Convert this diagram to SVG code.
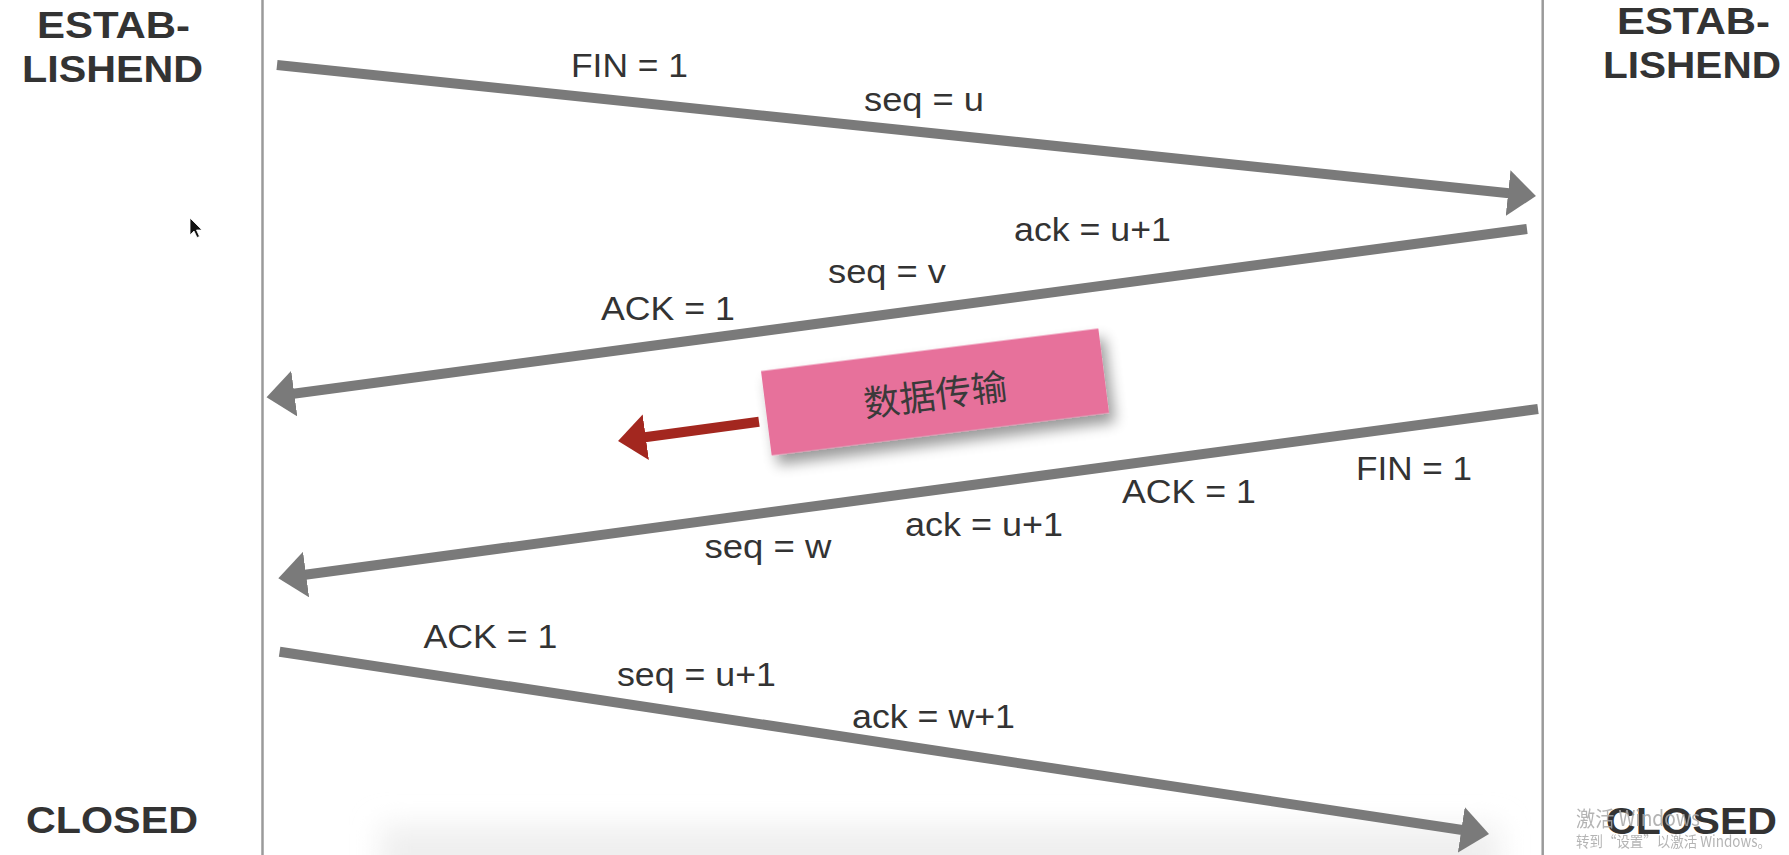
<svg xmlns="http://www.w3.org/2000/svg" width="1789" height="855" viewBox="0 0 1789 855">
<style>
.life{stroke:#9a9a9a;stroke-width:2.5;fill:none}
.msg{stroke:#7a7a7a;stroke-width:10;fill:none;stroke-linecap:butt}
.red{stroke:#a3271f;stroke-width:10;fill:none}
.lbl{font-family:"Liberation Sans",Arial,sans-serif;font-size:33px;fill:#333}
.state{font-family:"Liberation Sans",Arial,sans-serif;font-weight:bold;font-size:37px;fill:#333}
.cjk{font-family:"Noto Sans CJK SC","Liberation Sans",sans-serif;font-size:36px;fill:#3a3a3a}
.wm{font-family:"Noto Sans CJK SC","Liberation Sans",sans-serif;fill:#a8a8a8;opacity:0.85}
</style>
<defs>
<marker id="headGray" markerUnits="userSpaceOnUse" markerWidth="30" markerHeight="48" refX="1" refY="23" orient="auto" viewBox="0 0 30 48">
<path d="M0,0 L28,23 L0,46 Z" fill="#7a7a7a"/>
</marker>
<marker id="headRed" markerUnits="userSpaceOnUse" markerWidth="30" markerHeight="48" refX="1" refY="23" orient="auto" viewBox="0 0 30 48">
<path d="M0,0 L28,23 L0,46 Z" fill="#a3271f"/>
</marker>
<filter id="shadow" x="-20%" y="-40%" width="140%" height="180%">
<feGaussianBlur in="SourceAlpha" stdDeviation="7"/>
<feOffset dx="5" dy="10" result="b"/>
<feComponentTransfer><feFuncA type="linear" slope="0.4"/></feComponentTransfer>
<feMerge><feMergeNode/><feMergeNode in="SourceGraphic"/></feMerge>
</filter>
<filter id="soft" x="-10%" y="-100%" width="120%" height="300%">
<feGaussianBlur stdDeviation="14"/>
</filter>
</defs>
<rect x="0" y="0" width="1789" height="855" fill="#ffffff"/>
<rect x="380" y="825" width="1120" height="70" fill="#efefef" filter="url(#soft)"/>

<g id="lifelines">
<line class="life" x1="262.5" y1="0" x2="262.5" y2="855"/>
<line class="life" x1="1542.7" y1="0" x2="1542.7" y2="855"/>
</g>

<g id="client">
<text class="state" x="37" y="37.5" textLength="153" lengthAdjust="spacingAndGlyphs">ESTAB-</text>
<text class="state" x="22" y="82" textLength="181" lengthAdjust="spacingAndGlyphs">LISHEND</text>
<text class="state" x="26" y="832.5" textLength="172" lengthAdjust="spacingAndGlyphs">CLOSED</text>
</g>

<g id="server">
<text class="state" x="1617" y="34" textLength="153" lengthAdjust="spacingAndGlyphs">ESTAB-</text>
<text class="state" x="1603" y="78" textLength="178" lengthAdjust="spacingAndGlyphs">LISHEND</text>
<text class="state" x="1606" y="833.5" textLength="171" lengthAdjust="spacingAndGlyphs">CLOSED</text>
</g>

<g id="connectors">
<line class="msg" x1="277" y1="65" x2="1509.1" y2="193.2" marker-end="url(#headGray)"/>
<line class="msg" x1="1527" y1="229" x2="293.3" y2="393.7" marker-end="url(#headGray)"/>
<line class="msg" x1="1538" y1="409" x2="305.1" y2="574.7" marker-end="url(#headGray)"/>
<line class="msg" x1="279.6" y1="651.7" x2="1462.3" y2="830" marker-end="url(#headGray)"/>
<line class="red" x1="759" y1="421.7" x2="644.8" y2="437.3" marker-end="url(#headRed)"/>
</g>

<g id="msg1-labels">
<text class="lbl" x="571" y="77" textLength="117" lengthAdjust="spacingAndGlyphs">FIN = 1</text>
<text class="lbl" x="864" y="110.7" textLength="120" lengthAdjust="spacingAndGlyphs">seq = u</text>
</g>
<g id="msg2-labels">
<text class="lbl" x="1014" y="240.7" textLength="157" lengthAdjust="spacingAndGlyphs">ack = u+1</text>
<text class="lbl" x="828" y="282.7" textLength="118" lengthAdjust="spacingAndGlyphs">seq = v</text>
<text class="lbl" x="601" y="320" textLength="134" lengthAdjust="spacingAndGlyphs">ACK = 1</text>
</g>
<g id="msg3-labels">
<text class="lbl" x="1356" y="480" textLength="116" lengthAdjust="spacingAndGlyphs">FIN = 1</text>
<text class="lbl" x="1122" y="502.7" textLength="134" lengthAdjust="spacingAndGlyphs">ACK = 1</text>
<text class="lbl" x="905" y="536" textLength="158" lengthAdjust="spacingAndGlyphs">ack = u+1</text>
<text class="lbl" x="704.5" y="558.3" textLength="127" lengthAdjust="spacingAndGlyphs">seq = w</text>
</g>
<g id="msg4-labels">
<text class="lbl" x="423.5" y="648.3" textLength="134" lengthAdjust="spacingAndGlyphs">ACK = 1</text>
<text class="lbl" x="617" y="686" textLength="159" lengthAdjust="spacingAndGlyphs">seq = u+1</text>
<text class="lbl" x="852" y="728.3" textLength="163" lengthAdjust="spacingAndGlyphs">ack = w+1</text>
</g>

<g id="data-transfer" transform="translate(935,392) rotate(-7.2)">
<rect x="-170" y="-42.5" width="340" height="85" fill="#e7719b" filter="url(#shadow)"/>
<text class="cjk" x="0" y="16" text-anchor="middle">数据传输</text>
</g>

<g id="cursor" transform="translate(190,218)">
<path d="M0,0 L0,17 L4,13 L7,19.5 L9.5,18.5 L6.5,12 L12,12 Z" fill="#111" stroke="#fff" stroke-width="0.8"/>
</g>

<g id="watermark">
<text class="wm" x="1576" y="826" font-size="21" textLength="124" lengthAdjust="spacingAndGlyphs">激活 Windows</text>
<text class="wm" x="1576" y="847" font-size="15" textLength="195" lengthAdjust="spacingAndGlyphs">转到“设置”以激活 Windows。</text>
</g>
</svg>
